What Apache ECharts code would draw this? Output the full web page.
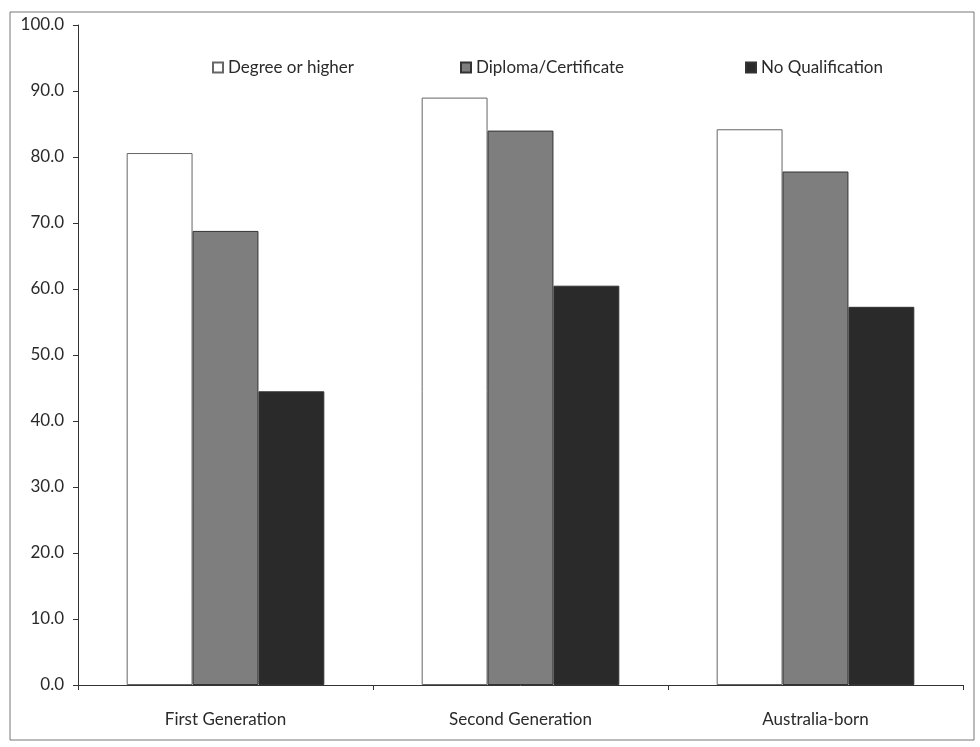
<!DOCTYPE html>
<html>
<head>
<meta charset="utf-8">
<script src="https://cdn.jsdelivr.net/npm/echarts@6/dist/echarts.min.js"></script>
<style>html,body{margin:0;padding:0;background:#fff}#c{width:980px;height:747px}</style>
</head>
<body>
<div id="c"></div>
<script>
const categories = ['First Generation', 'Second Generation', 'Australia-born'];
const seriesNames = ['Degree or higher', 'Diploma/Certificate', 'No Qualification'];
const degree = [80.6, 89.0, 84.2];
const diploma = [68.8, 84.0, 77.8];
const noQual = [44.5, 60.5, 57.3];
const yTicks = [0, 10, 20, 30, 40, 50, 60, 70, 80, 90, 100];

const chart = echarts.init(document.getElementById('c'));
const font = 'Lato, "Open Sans", sans-serif';
const colors = ['#ffffff', '#7e7e7e', '#2a2a2a'];
const legendLeft = [207, 455, 740];

function legendFor(i) {
  return {
    data: [seriesNames[i]], left: legendLeft[i], top: 54,
    itemWidth: 10, itemHeight: 10, itemGap: 5,
    textStyle: { fontFamily: font, fontSize: 17, color: '#2a2a2a' },
    icon: 'rect', selectedMode: false
  };
}
function bar(i, data) {
  return {
    name: seriesNames[i], type: 'bar', data: data,
    barGap: '0%', barCategoryGap: '33%',
    itemStyle: { color: colors[i], borderColor: i === 0 ? '#666' : '#333', borderWidth: 1 },
    emphasis: { disabled: true }
  };
}

chart.setOption({
  animation: false,
  backgroundColor: '#fff',
  graphic: [{
    type: 'rect', shape: { x: 10, y: 12, width: 964, height: 728 },
    style: { fill: 'none', stroke: '#777', lineWidth: 1 }, silent: true, z: -1
  }],
  legend: [legendFor(0), legendFor(1), legendFor(2)],
  grid: { left: 78, right: 17, top: 25, bottom: 62, containLabel: false },
  xAxis: {
    type: 'category', data: categories, boundaryGap: true,
    axisLine: { lineStyle: { color: '#333', width: 1 } },
    axisTick: { show: true, length: 5, lineStyle: { color: '#333' } },
    axisLabel: { fontFamily: font, fontSize: 17, color: '#2a2a2a', margin: 26 }
  },
  yAxis: {
    type: 'value', min: yTicks[0], max: yTicks[yTicks.length - 1], interval: 10,
    axisLine: { show: true, lineStyle: { color: '#333', width: 1 } },
    axisTick: { show: true, length: 5, lineStyle: { color: '#333' } },
    splitLine: { show: false },
    axisLabel: { fontFamily: font, fontSize: 17, color: '#2a2a2a', margin: 14,
      formatter: v => v.toFixed(1) }
  },
  series: [bar(0, degree), bar(1, diploma), bar(2, noQual)]
});
</script>
</body>
</html>
